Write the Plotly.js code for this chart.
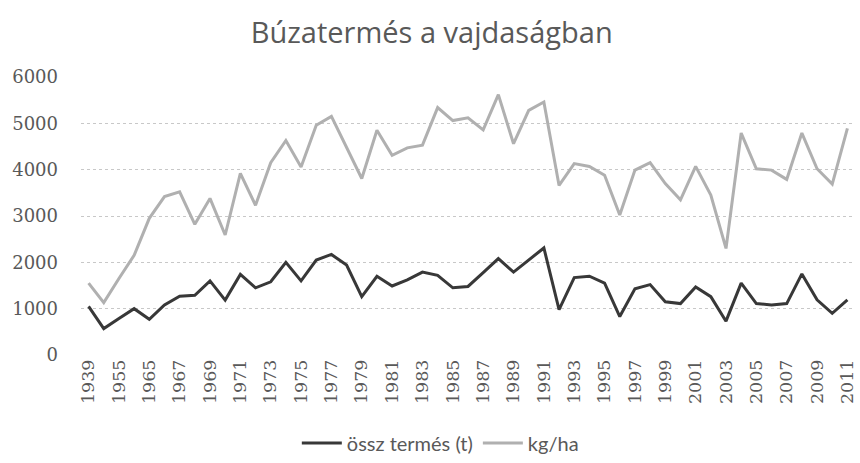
<!DOCTYPE html>
<html>
<head>
<meta charset="utf-8">
<script src="https://cdn.plot.ly/plotly-3.0.1.min.js"></script>
<style>html,body{margin:0;padding:0;background:#fff;}#chart{width:860px;height:463px;}</style>
</head>
<body>
<div id="chart"></div>
<script>
const years = ['1939','1950','1955','1960','1965','1966','1967','1968','1969','1970',
  '1971','1972','1973','1974','1975','1976','1977','1978','1979','1980',
  '1981','1982','1983','1984','1985','1986','1987','1988','1989','1990',
  '1991','1992','1993','1994','1995','1996','1997','1998','1999','2000',
  '2001','2002','2003','2004','2005','2006','2007','2008','2009','2010','2011'];
const osszTermes = [1050,570,790,1000,770,1080,1270,1290,1600,1185,
  1740,1450,1580,2000,1600,2050,2170,1940,1260,1700,
  1490,1620,1790,1720,1450,1480,1780,2080,1790,2050,
  2310,980,1670,1700,1550,830,1430,1520,1150,1110,
  1470,1260,730,1550,1110,1080,1110,1750,1190,900,1190];
const kgHa = [1550,1130,1650,2150,2950,3420,3520,2820,3380,2590,
  3920,3230,4150,4630,4060,4960,5150,4470,3810,4850,
  4310,4470,4530,5340,5060,5120,4860,5620,4560,5280,
  5460,3660,4130,4070,3880,3020,3990,4150,3700,3350,
  4070,3450,2300,4790,4020,3990,3790,4790,4020,3690,4890];
const seriesNames = ['össz termés (t)', 'kg/ha'];
const chartTitle = 'Búzatermés a vajdaságban';
const tickYears = years.filter((y, i) => i % 2 === 0);

const traces = [
  {x: years, y: osszTermes, name: seriesNames[0], type: 'scatter', mode: 'lines',
   line: {color: '#383838', width: 3}},
  {x: years, y: kgHa, name: seriesNames[1], type: 'scatter', mode: 'lines',
   line: {color: '#b0b0b0', width: 3}}
];

const layout = {
  width: 860, height: 463,
  margin: {l: 81, r: 5, t: 77, b: 108},
  paper_bgcolor: '#ffffff', plot_bgcolor: '#ffffff',
  title: {text: chartTitle, x: 0.502, xref: 'container', xanchor: 'center', y: 0.928, yref: 'container', yanchor: 'middle',
          font: {family: 'Open Sans, sans-serif', size: 29, color: '#595959'}},
  xaxis: {type: 'category', range: [-0.5, years.length - 0.5], tickmode: 'array', tickvals: tickYears, ticktext: tickYears,
          tickangle: -90, showgrid: false, zeroline: false, showline: false, ticks: '',
          tickfont: {family: 'DejaVu Serif, serif', size: 17.5, color: '#595959'}},
  yaxis: {range: [0, 6000], tickvals: [0,1000,2000,3000,4000,5000,6000], showgrid: true,
          gridcolor: '#c8c8c8', griddash: 'dot', gridwidth: 1, zeroline: false, showline: false,
          ticks: '', ticklabelstandoff: 22,
          tickfont: {family: 'DejaVu Serif, serif', size: 18, color: '#595959'}},
  showlegend: true,
  legend: {orientation: 'h', x: 0.512, xanchor: 'center', xref: 'container', y: 0.043, yref: 'container', yanchor: 'middle',
           itemwidth: 40,
           font: {family: 'Lato, sans-serif', size: 20, color: '#595959'}}
};

Plotly.newPlot('chart', traces, layout, {displayModeBar: false, staticPlot: true});
</script>
</body>
</html>
